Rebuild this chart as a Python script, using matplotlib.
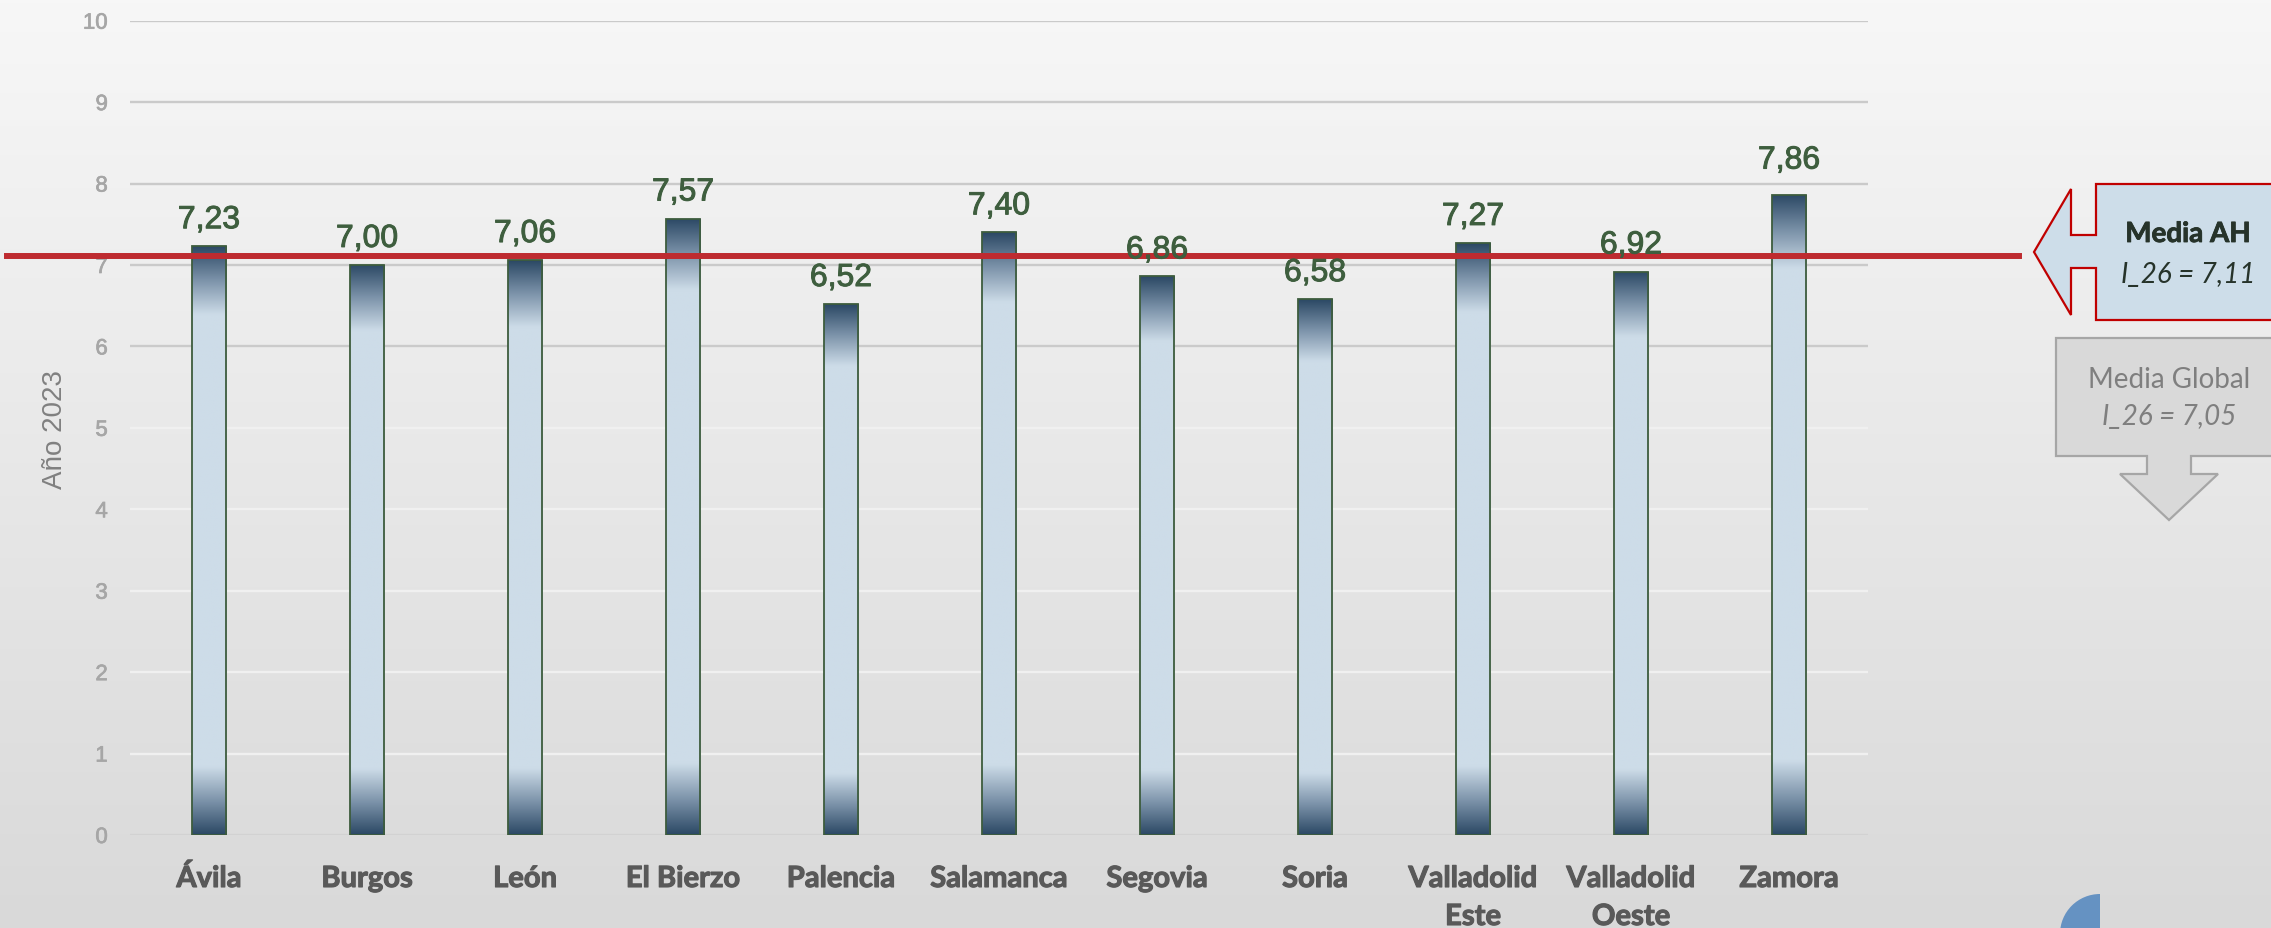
import numpy as np
import matplotlib.pyplot as plt
import matplotlib.patheffects as pe
from matplotlib.colors import LinearSegmentedColormap
from matplotlib.patches import Polygon, Wedge
from matplotlib.transforms import Affine2D, blended_transform_factory

zonas = ['Ávila', 'Burgos', 'León', 'El Bierzo', 'Palencia', 'Salamanca',
         'Segovia', 'Soria', 'Valladolid\nEste', 'Valladolid\nOeste', 'Zamora']
valores = [7.23, 7.00, 7.06, 7.57, 6.52, 7.40, 6.86, 6.58, 7.27, 6.92, 7.86]
media_ah = 7.11
media_global = 7.05
y_ticks = list(range(0, 11))

W, H = 2271, 929
fig = plt.figure(figsize=(W / 100, H / 100), dpi=100)

# coordenadas en píxeles con origen arriba a la izquierda
px = Affine2D().scale(1 / W, -1 / H).translate(0, 1) + fig.transFigure


def fmt(v):
    return f'{v:.2f}'.replace('.', ',')


def grueso(color, w=0.7):
    return [pe.withStroke(linewidth=w, foreground=color)]


# fondo degradado
bg = fig.add_axes([0, 0, 1, 1], zorder=-10)
fondo = LinearSegmentedColormap.from_list('fondo', ['#f7f7f7', '#d9d9d9'])
bg.imshow(np.linspace(0, 1, 256).reshape(-1, 1), cmap=fondo, aspect='auto',
          extent=[0, 1, 0, 1], origin='upper')
bg.set_axis_off()

ax = fig.add_axes([130 / W, 93 / H, (1868 - 130) / W, (836 - 21.7) / H])
ax.set_facecolor('none')
for s in ax.spines.values():
    s.set_visible(False)

x = np.arange(len(zonas))

# líneas de la cuadrícula
for t in y_ticks:
    if t == 0:
        c = '#d2d2d2'
    elif t <= 5:
        c = '#f0f0f0'
    else:
        c = '#cacaca'
    ax.axhline(t, color=c, linewidth=1.7, zorder=0.5)

# barras con degradado
barra = LinearSegmentedColormap.from_list('barra', [
    (0, '#2d4a66'), (0.055, '#7a91a8'), (0.115, '#cddce8'),
    (0.885, '#cddce8'), (0.945, '#7a91a8'), (1, '#2d4a66')])
grad = np.linspace(0, 1, 256).reshape(-1, 1)
bars = ax.bar(x, valores, width=0.22, facecolor='none', edgecolor='#3d5c3d',
              linewidth=1.3, zorder=3)
# la etiqueta de Zamora va algo más alta
extra = {len(valores) - 1: 6}
for i, (b, v) in enumerate(zip(bars, valores)):
    im = ax.imshow(grad, cmap=barra, aspect='auto', origin='lower',
                   extent=[b.get_x(), b.get_x() + b.get_width(), 0, v],
                   zorder=2, interpolation='bilinear')
    im.set_clip_path(b)
    ax.annotate(fmt(v), (b.get_x() + b.get_width() / 2, v),
                xytext=(0, 13 + extra.get(i, 0)),
                textcoords='offset points', ha='center', va='baseline',
                fontsize=23, color='#3e5e3e', family='Liberation Sans', zorder=6,
                path_effects=grueso('#3e5e3e'))

ax.set_xlim(-0.5, len(zonas) - 0.5)
ax.set_ylim(0, 10)
ax.set_yticks(y_ticks)
ax.set_xticks([])
ax.tick_params(axis='y', length=0, pad=16, labelsize=16, labelcolor='#a6a6a6')
for lab in ax.get_yticklabels():
    lab.set_family('Liberation Sans')
    lab.set_path_effects(grueso('#a6a6a6', 0.5))

# etiquetas de zona
cat_tr = blended_transform_factory(ax.transData, px)
for xi, z in zip(x, zonas):
    for k, linea in enumerate(z.split('\n')):
        ax.text(xi, 888 + 38 * k, linea, transform=cat_tr, ha='center',
                va='baseline', fontsize=21, fontweight='bold', color='#595959',
                family='Lato', clip_on=False, path_effects=grueso('#595959', 0.8))

fig.text(55 / W, 1 - 430 / H, 'Año 2023', rotation=90, ha='center',
         va='center', fontsize=20, color='#808080', family='Liberation Sans')

# línea de la media AH
linea_tr = blended_transform_factory(px, ax.transData)
ax.plot([7, 2019], [media_ah, media_ah], transform=linea_tr, color='#be2b30',
        linewidth=4.3, clip_on=False, zorder=5)

# flecha Media AH
flecha_ah = [(2034, 253), (2071, 190), (2071, 236), (2096, 236), (2096, 185),
             (2300, 185), (2300, 321), (2096, 321), (2096, 269), (2071, 269),
             (2071, 316)]
fig.add_artist(Polygon(flecha_ah, closed=True, transform=px, facecolor='#cddde9',
                       edgecolor='#c00000', linewidth=1.6))
fig.text(2188, 235, 'Media AH', transform=px, ha='center', va='center',
         fontsize=20, fontweight='bold', color='#26332a', family='Lato',
         path_effects=grueso('#26332a', 0.6))
fig.text(2188, 275, 'I_26 = ' + fmt(media_ah), transform=px, ha='center',
         va='center', fontsize=20, style='italic', color='#26332a', family='Lato')

# flecha Media Global
flecha_gl = [(2056, 339), (2282, 339), (2282, 457), (2191, 457), (2191, 475),
             (2218, 475), (2169, 521), (2120, 475), (2147, 475), (2147, 457),
             (2056, 457)]
fig.add_artist(Polygon(flecha_gl, closed=True, transform=px, facecolor='#d9d9d9',
                       edgecolor='#a6a6a6', linewidth=1.6))
fig.text(2169, 380, 'Media Global', transform=px, ha='center', va='center',
         fontsize=20, color='#7f7f7f', family='Lato')
fig.text(2169, 417, 'I_26 = ' + fmt(media_global), transform=px, ha='center',
         va='center', fontsize=20, style='italic', color='#7f7f7f', family='Lato')

fig.add_artist(Wedge((2100, 935), 40, 180, 270, transform=px, facecolor='#6592c2',
                     edgecolor='none'))

fig.savefig('out.png', dpi=100)
